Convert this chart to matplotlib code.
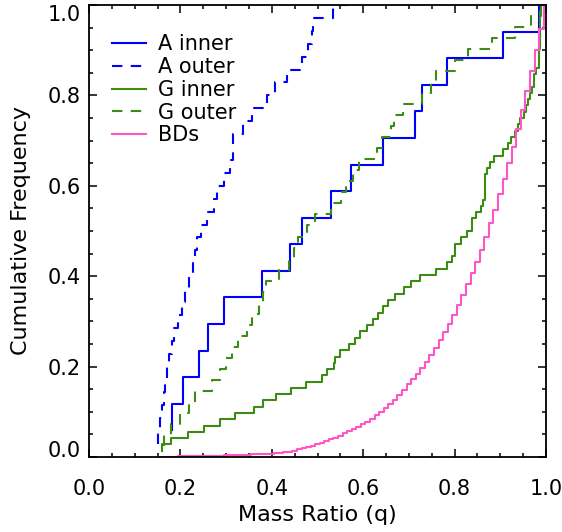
import numpy as np
import matplotlib
matplotlib.use("Agg")
import matplotlib.pyplot as plt
from matplotlib.ticker import MultipleLocator, FormatStrFormatter

# sorted mass ratios (one entry per object)
a_inner = [0.181, 0.181, 0.205, 0.241, 0.261, 0.296, 0.379, 0.440, 0.465,
           0.530, 0.574, 0.643, 0.714, 0.728, 0.783, 0.907, 0.985]
a_outer = [0.150, 0.152, 0.155, 0.159, 0.163, 0.167, 0.171, 0.176, 0.181,
           0.187, 0.194, 0.204, 0.211, 0.219, 0.227, 0.233, 0.237, 0.246,
           0.258, 0.273, 0.280, 0.295, 0.309, 0.315, 0.316, 0.336, 0.357,
           0.390, 0.408, 0.433, 0.466, 0.479, 0.487, 0.490, 0.534]
a_outer_end = 0.58
g_inner = [0.159, 0.159, 0.180, 0.216, 0.251, 0.286, 0.320, 0.360, 0.380,
           0.410, 0.442, 0.474, 0.510, 0.520, 0.536, 0.538, 0.549, 0.569,
           0.582, 0.594, 0.609, 0.621, 0.633, 0.643, 0.654, 0.670, 0.689,
           0.704, 0.724, 0.759, 0.784, 0.795, 0.800, 0.800, 0.814, 0.828,
           0.838, 0.838, 0.847, 0.857, 0.862, 0.867, 0.867, 0.867, 0.867,
           0.872, 0.877, 0.887, 0.907, 0.917, 0.923, 0.933, 0.939, 0.943,
           0.952, 0.957, 0.960, 0.966, 0.969, 0.974, 0.974, 0.979, 0.984,
           0.984, 0.984, 0.988, 0.988, 0.988, 0.988, 0.988, 0.988, 0.990]
g_outer = [0.163, 0.165, 0.180, 0.200, 0.218, 0.232, 0.270, 0.287, 0.300,
           0.312, 0.327, 0.345, 0.356, 0.372, 0.380, 0.388, 0.415, 0.437,
           0.448, 0.458, 0.476, 0.495, 0.530, 0.552, 0.563, 0.578, 0.590,
           0.630, 0.642, 0.660, 0.667, 0.688, 0.729, 0.748, 0.759, 0.800,
           0.830, 0.882, 0.932, 0.967, 0.990]

# BD cumulative curve, binned in q
bd_q = [0.15, 0.16, 0.17, 0.18, 0.19, 0.20, 0.21, 0.22, 0.23, 0.24,
        0.25, 0.26, 0.27, 0.28, 0.29, 0.30, 0.31, 0.32, 0.33, 0.34,
        0.35, 0.36, 0.37, 0.38, 0.39, 0.40, 0.41, 0.42, 0.43, 0.44,
        0.45, 0.46, 0.47, 0.48, 0.49, 0.50, 0.51, 0.52, 0.53, 0.54,
        0.55, 0.56, 0.57, 0.58, 0.59, 0.60, 0.61, 0.62, 0.63, 0.64,
        0.65, 0.66, 0.67, 0.68, 0.69, 0.70, 0.71, 0.72, 0.73, 0.74,
        0.75, 0.76, 0.77, 0.78, 0.79, 0.80, 0.81, 0.82, 0.83, 0.84,
        0.85, 0.86, 0.87, 0.88, 0.89, 0.90, 0.91, 0.92, 0.93, 0.94,
        0.95, 0.96, 0.97, 0.98, 0.99, 1.00]
bd_f = [0.000, 0.0003, 0.0005, 0.0007, 0.0009, 0.0011, 0.0013, 0.0015, 0.0017, 0.0019,
        0.0021, 0.0023, 0.0026, 0.0029, 0.0032, 0.0035, 0.0038, 0.0041, 0.0044, 0.0048,
        0.0052, 0.0056, 0.0060, 0.0065, 0.0070, 0.0076, 0.0084, 0.0094, 0.0106, 0.0120,
        0.0136, 0.017, 0.019, 0.021, 0.024, 0.028, 0.031, 0.035, 0.039, 0.043,
        0.047, 0.052, 0.057, 0.062, 0.067, 0.072, 0.078, 0.085, 0.092, 0.100,
        0.108, 0.117, 0.127, 0.138, 0.149, 0.161, 0.172, 0.184, 0.196, 0.210,
        0.225, 0.241, 0.258, 0.277, 0.295, 0.315, 0.336, 0.358, 0.382, 0.406,
        0.432, 0.458, 0.487, 0.517, 0.546, 0.581, 0.614, 0.651, 0.686, 0.725,
        0.768, 0.810, 0.855, 0.900, 0.948, 1.000]

major_ticks = [0.0, 0.2, 0.4, 0.6, 0.8, 1.0]

BLUE = "#0000ff"
GREEN = "#3c8c14"
PINK = "#ff55c8"


def cdf(q):
    q = np.asarray(q)
    return q, np.arange(1, len(q) + 1) / len(q)


plt.rcParams["font.family"] = ["DejaVu Sans"]
fig = plt.figure(figsize=(5.62, 5.32), dpi=100)
ax = fig.add_axes([0.1584, 0.141, 0.8131, 0.8496])

dash = (0, (5, 4))
x, y = cdf(a_inner)
ax.plot(x, y, drawstyle="steps-post", color=BLUE, lw=1.5, label="A inner")
x, y = cdf(a_outer)
ax.plot(np.append(x, a_outer_end), np.append(y, 1.0), drawstyle="steps-post",
        color=BLUE, lw=1.5, ls=dash, label="A outer")
x, y = cdf(g_inner)
ax.plot(x, y, drawstyle="steps-post", color=GREEN, lw=1.5, label="G inner")
x, y = cdf(g_outer)
ax.plot(x, y, drawstyle="steps-post", color=GREEN, lw=1.5, ls=dash, label="G outer")
ax.plot(bd_q, bd_f, drawstyle="steps-mid", color=PINK, lw=1.5, label="BDs")

ax.set_xlim(0, 1)
ax.set_ylim(0, 1)
ax.set_xticks(major_ticks)
ax.set_yticks(major_ticks)
ax.xaxis.set_minor_locator(MultipleLocator(0.05))
ax.yaxis.set_minor_locator(MultipleLocator(0.05))
ax.xaxis.set_major_formatter(FormatStrFormatter("%.1f"))
ax.yaxis.set_major_formatter(FormatStrFormatter("%.1f"))
ax.tick_params(which="both", direction="in", top=True, right=True, width=1.1,
               labelsize=15)
ax.tick_params(which="major", length=6)
ax.tick_params(which="minor", length=3)
ax.tick_params(axis="x", pad=16)
ax.tick_params(axis="y", pad=6)
for s in ax.spines.values():
    s.set_linewidth(1.3)

ax.set_xlabel("Mass Ratio (q)", fontsize=16, labelpad=4)
ax.set_ylabel("Cumulative Frequency", fontsize=16, labelpad=12)

ax.legend(loc="upper left", bbox_to_anchor=(0.05, 0.935), frameon=False,
          fontsize=15, handlelength=1.63, handletextpad=0.58, labelspacing=0.13,
          borderpad=0, borderaxespad=0)

# keep end labels of the y axis inside the plot height, as in the original
yticks = ax.yaxis.get_major_ticks()
yticks[0].label1.set_verticalalignment("baseline")
yticks[-1].label1.set_verticalalignment("top")

fig.savefig("out.png", dpi=100)
